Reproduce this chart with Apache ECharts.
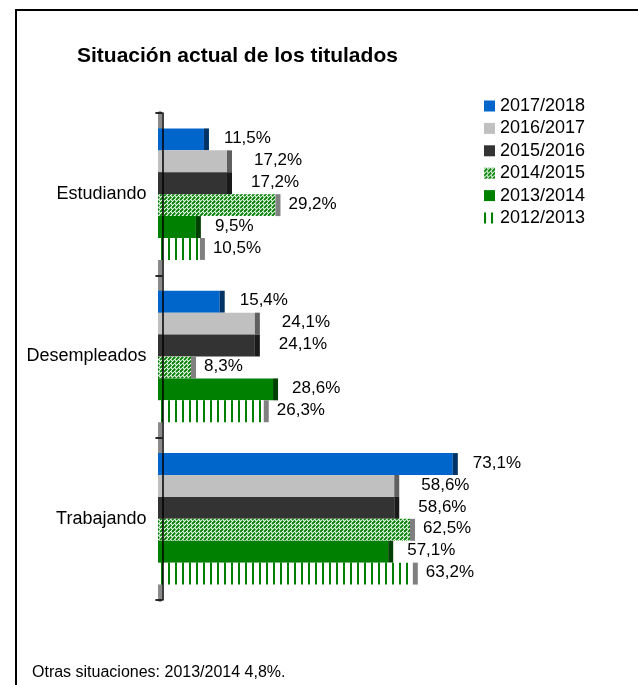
<!DOCTYPE html>
<html>
<head>
<meta charset="utf-8">
<title>Situación actual de los titulados</title>
<script src="https://cdn.jsdelivr.net/npm/echarts@6/dist/echarts.min.js"></script>
<style>
    html, body { margin: 0; padding: 0; background: #fff; }
    #situacion-chart { width: 638px; height: 685px; }
</style>
</head>
<body>
<div id="situacion-chart"></div>
<script>
"use strict";

// Data
var categories = ['Estudiando', 'Desempleados', 'Trabajando'];
var courses = ['2017/2018', '2016/2017', '2015/2016', '2014/2015', '2013/2014', '2012/2013'];
var y2017_18 = [11.5, 15.4, 73.1];
var y2016_17 = [17.2, 24.1, 58.6];
var y2015_16 = [17.2, 24.1, 58.6];
var y2014_15 = [29.2, 8.3, 62.5];
var y2013_14 = [9.5, 28.6, 57.1];
var y2012_13 = [10.5, 26.3, 63.2];
var footNote = 'Otras situaciones: 2013/2014 4,8%.';

var FONT = '"Liberation Sans", Arial, sans-serif';

// Pattern fills
function diagPattern() {
    var c = document.createElement('canvas');
    c.width = 8; c.height = 8;
    var ctx = c.getContext('2d');
    ctx.fillStyle = '#fff';
    ctx.fillRect(0, 0, 8, 8);
    ctx.strokeStyle = '#008000';
    ctx.lineWidth = 1.9;
    ctx.setLineDash([4.6, 1.05]);
    for (var k = -8; k <= 16; k += 4) {
        ctx.beginPath();
        ctx.moveTo(k - 4, 12);
        ctx.lineTo(k + 12, -4);
        ctx.stroke();
    }
    return { image: c, repeat: 'repeat' };
}

function vertPattern() {
    var c = document.createElement('canvas');
    c.width = 7; c.height = 4;
    var ctx = c.getContext('2d');
    ctx.fillStyle = '#fff';
    ctx.fillRect(0, 0, 7, 4);
    ctx.fillStyle = '#008000';
    ctx.fillRect(0, 0, 2, 4);
    return { image: c, repeat: 'repeat' };
}

var bodyColors = ['#0066CC', '#C0C0C0', '#333333', diagPattern(), '#008000', vertPattern()];
var capColors = ['#003366', '#5f5f5f', '#1a1a1a', '#808080', '#004000', '#808080'];
var labelGap = [15, 22, 19, 8, 14, 8];
var capW = 5;
var bandFill = 0.81;

function fmt(v) {
    return v.toFixed(1).replace('.', ',') + '%';
}

function renderBar(idx) {
    return function (params, api) {
        var cat = api.value(0);
        var val = api.value(1);
        var end = api.coord([val, cat]);
        var zero = api.coord([0, cat]);
        var band = api.size([0, 1])[1];
        var h = band * bandFill / 6;
        var y = zero[1] - band * bandFill / 2 + idx * h;
        var x0 = zero[0] - 4.5;
        var x1 = end[0];
        return {
            type: 'group',
            children: [{
                type: 'rect',
                shape: { x: x0, y: y, width: Math.max(0, x1 - capW - x0), height: h },
                style: { fill: bodyColors[idx] }
            }, {
                type: 'rect',
                shape: { x: x1 - capW, y: y, width: capW, height: h },
                style: { fill: capColors[idx] }
            }, {
                type: 'text',
                x: x1 + labelGap[idx],
                y: y + h / 2 - 1,
                style: {
                    text: fmt(val),
                    fontSize: 17,
                    fontFamily: FONT,
                    fill: '#000',
                    align: 'left',
                    verticalAlign: 'middle'
                }
            }]
        };
    };
}

function toData(values) {
    return values.map(function (v, i) { return [i, v]; });
}

var seriesValues = [y2017_18, y2016_17, y2015_16, y2014_15, y2013_14, y2012_13];

var chart = echarts.init(document.getElementById('situacion-chart'));
var option = {
    backgroundColor: '#fff',
    animation: false,

    // Add title
    title: {
        text: 'Situación actual de los titulados',
        left: 77,
        top: 46,
        padding: 0,
        textStyle: { fontSize: 21, fontWeight: 'bold', color: '#000', fontFamily: FONT }
    },

    // Add legend
    legend: {
        orient: 'vertical',
        left: 484,
        top: 97,
        padding: 0,
        itemWidth: 11,
        itemHeight: 11,
        itemGap: 4.4,
        icon: 'rect',
        textStyle: { fontSize: 18, lineHeight: 18, color: '#000', fontFamily: FONT, padding: [0, 0, 0, 0] },
        data: courses.map(function (c, i) {
            return { name: c, itemStyle: { color: bodyColors[i], borderWidth: 0 } };
        })
    },

    grid: { left: 162.5, right: 71.5, top: 113, bottom: 85 },

    xAxis: { type: 'value', min: 0, max: 100, show: false },

    yAxis: [{
        // black edge of the axis, drawn above the bars
        type: 'category',
        position: 'left',
        inverse: true,
        data: categories,
        offset: 6,
        z: 5,
        axisLine: { show: true, lineStyle: { color: '#000', width: 1.5 } },
        axisTick: { show: true, length: 7, lineStyle: { color: '#000', width: 1.5 } },
        axisLabel: { margin: 10, fontSize: 18, color: '#000', fontFamily: FONT },
        splitLine: { show: false }
    }, {
        // grey face of the axis, behind the bars
        type: 'category',
        position: 'left',
        inverse: true,
        data: categories,
        offset: 3,
        axisLine: { show: true, lineStyle: { color: '#8a8a8a', width: 4 } },
        axisTick: { show: true, length: 4, lineStyle: { color: '#8a8a8a', width: 1.5 } },
        axisLabel: { show: false },
        splitLine: { show: false }
    }],

    // Add series
    series: seriesValues.map(function (vals, i) {
        return {
            name: courses[i],
            type: 'custom',
            renderItem: renderBar(i),
            encode: { x: 1, y: 0 },
            itemStyle: { color: bodyColors[i] },
            data: toData(vals)
        };
    }),

    graphic: [{
        type: 'rect',
        shape: { x: 16, y: 10, width: 700, height: 720 },
        style: { fill: 'none', stroke: '#000', lineWidth: 2 },
        silent: true
    }, {
        type: 'text',
        x: 32,
        y: 673,
        style: {
            text: footNote,
            fontSize: 16,
            fontFamily: FONT,
            fill: '#000',
            verticalAlign: 'middle'
        }
    }]
};

chart.setOption(option);
</script>
</body>
</html>
